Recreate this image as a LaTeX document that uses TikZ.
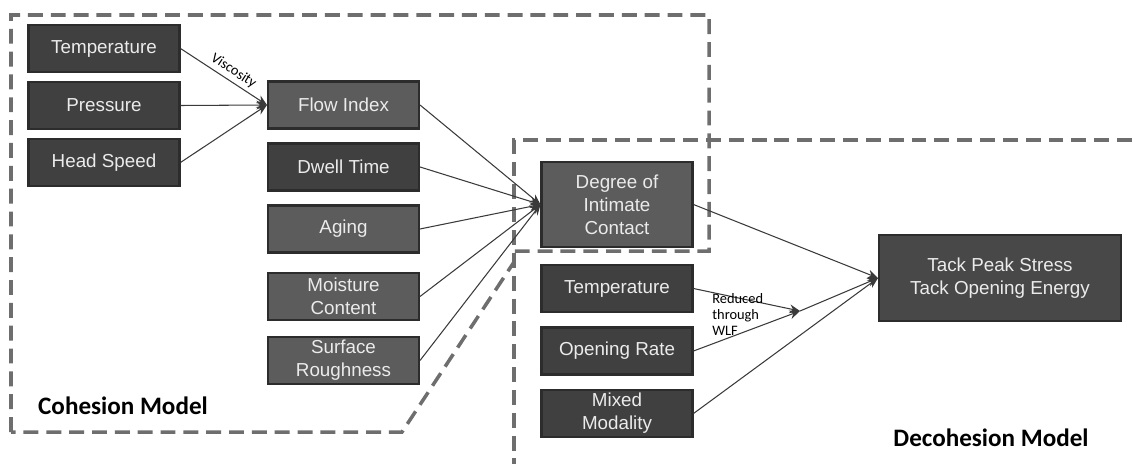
\documentclass[tikz,border=0pt]{standalone}
\usepackage{fontspec}
\setmainfont{Liberation Sans}
\newfontfamily\calfont{Carlito}
\usetikzlibrary{arrows.meta,positioning}
\definecolor{boxdark}{HTML}{404040}
\definecolor{boxlight}{HTML}{5C5C5C}
\definecolor{boxtack}{HTML}{484848}
\definecolor{boxedge}{HTML}{2C2C2C}
\definecolor{dashgray}{HTML}{6E6E6E}
\definecolor{linkgray}{HTML}{3A3A3A}

\begin{document}
\begin{tikzpicture}[x=0.02cm,y=-0.02cm,
	box/.style={rectangle,draw=boxedge,line width=1.2pt,text=white!92!black,
		minimum width=3.02cm,minimum height=0.94cm,align=center,inner sep=1pt,
		font=\fontsize{10.7}{13}\selectfont},
	dark/.style={box,fill=boxdark},
	light/.style={box,fill=boxlight},
	link/.style={draw=linkgray,line width=0.6pt,-{Stealth[length=6pt,width=5pt]}},
	region/.style={draw=dashgray,line width=2pt,dash pattern=on 8.5pt off 4.5pt},
	small/.style={font=\calfont\fontsize{8.2}{9.2}\selectfont,text=black,inner sep=0pt},
	title/.style={font=\calfont\bfseries\fontsize{14.3}{17}\selectfont}]
		\useasboundingbox (0,0) rectangle (1132,464);

		% model regions
		\draw[region] (11,432) -- (11,15) -- (709,15) -- (709,251) -- (514,251) -- (514,262) -- (402,432) -- cycle;
		\draw[region] (1132,140) -- (514,140) -- (514,464);

		% cohesion inputs
		\node[dark] (temp) at (104,48.5) {Temperature};
		\node[dark,below of=temp,node distance=1.14cm] (pres) {Pressure};
		\node[dark,below of=pres,node distance=1.14cm] (speed) {Head Speed};

		\node[light] (flow) at (343.5,105) {Flow Index};
		\node[dark,below of=flow,node distance=1.24cm] (dwell) {Dwell Time};
		\node[light,below of=dwell,node distance=1.24cm] (aging) {Aging};
		\node[light,below of=aging,node distance=1.35cm] (moist) {Moisture\\Content};
		\node[light,below of=moist,node distance=1.28cm] (rough) {Surface\\Roughness};

		% decohesion inputs
		\node[light,minimum height=1.7cm] (contact) at (617,204.5) {Degree of\\Intimate\\Contact};
		\node[dark] (tempr) at (617,288.5) {Temperature};
		\node[dark,below of=tempr,node distance=1.25cm] (rate) {Opening Rate};
		\node[dark,below of=rate,node distance=1.25cm] (mixed) {Mixed\\Modality};
		\node[dark,fill=boxtack,minimum width=4.84cm,minimum height=1.72cm] (tack) at (1000,278) {Tack Peak Stress\\Tack Opening Energy};

		\coordinate (wlf) at (800,311);

		\draw[link] (temp.east) -- node[small,sloped,above=2pt,pos=.55] (visc) {Viscosity} (flow.west);
		\draw[link] (pres.east) -- (flow.west);
		\draw[link] (speed.east) -- (flow.west);
		\foreach \n in {flow,dwell,aging,moist,rough}
			\draw[link] (\n.east) -- (contact.west);
		\draw[link] (tempr.east) -- (wlf);
		\draw[link] (rate.east) -- (wlf);
		\draw[link] (contact.east) -- (tack.west);
		\draw[link] (wlf) -- (tack.west);
		\draw[link] (mixed.east) -- (tack.west);

		\node[small,align=left,anchor=north west] (wlftext) at (712,293) {Reduced\\through\\WLF};
		\node[title,anchor=west] (cohtitle) at (32,406) {Cohesion Model};
		\node[title] (decohtitle) at (991,438) {Decohesion Model};
	\end{tikzpicture}
\end{document}
